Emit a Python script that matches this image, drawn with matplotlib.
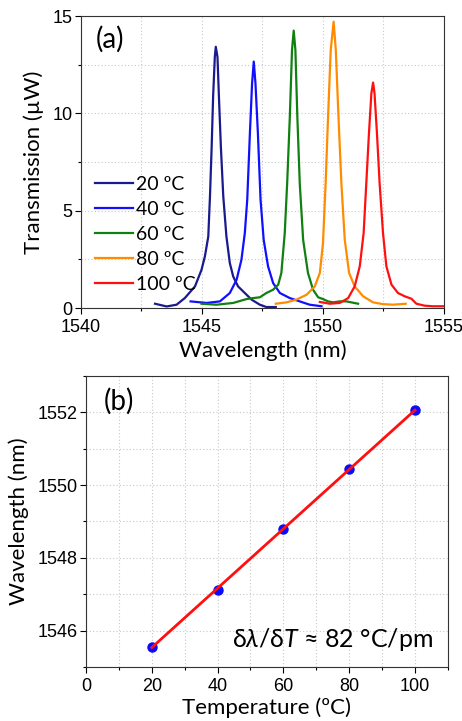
import numpy as np
import matplotlib
matplotlib.use('Agg')
import matplotlib.pyplot as plt
from matplotlib.ticker import MultipleLocator

plt.rcParams['font.family'] = ['Liberation Sans', 'DejaVu Sans']
plt.rcParams['mathtext.fontset'] = 'custom'
plt.rcParams['mathtext.it'] = 'Lato:italic'
plt.rcParams['mathtext.rm'] = 'Lato'
lab_font = ['Lato', 'DejaVu Sans']

#%% datos (a): espectros de transmision
wl20 = [1543.06, 1543.54, 1543.95, 1544.29, 1544.71, 1544.98, 1545.12, 1545.26, 1545.33, 1545.40,
        1545.46, 1545.53, 1545.57, 1545.64, 1545.70, 1545.78, 1545.88, 1546.01, 1546.15, 1546.29,
        1546.49, 1546.77, 1547.05, 1547.39, 1547.66, 1548.05]
tr20 = [0.22, 0.08, 0.17, 0.51, 1.11, 1.96, 2.65, 3.67, 5.73, 8.29,
        10.86, 12.90, 13.42, 12.90, 10.86, 8.29, 5.73, 3.67, 2.31, 1.62,
        1.11, 0.77, 0.43, 0.17, 0.05, 0.05]

wl40 = [1544.53, 1545.19, 1545.74, 1546.15, 1546.43, 1546.63, 1546.77, 1546.87, 1546.98, 1547.07,
        1547.14, 1547.21, 1547.31, 1547.42, 1547.55, 1547.73, 1547.94, 1548.22, 1548.63, 1549.04,
        1549.45, 1549.94]
tr40 = [0.34, 0.26, 0.34, 0.77, 1.45, 2.48, 3.85, 5.56, 8.98, 11.54,
        12.66, 11.54, 8.98, 5.56, 3.50, 2.14, 1.28, 0.77, 0.51, 0.34,
        0.17, 0.09]

wl60 = [1544.98, 1545.60, 1546.29, 1546.84, 1547.11, 1547.39, 1547.66, 1547.94, 1548.15, 1548.28,
        1548.42, 1548.52, 1548.63, 1548.72, 1548.79, 1548.86, 1548.94, 1549.04, 1549.18, 1549.38,
        1549.59, 1549.80, 1550.00, 1550.21, 1550.42, 1550.69, 1550.97, 1551.45]
tr60 = [0.22, 0.17, 0.26, 0.46, 0.51, 0.55, 0.77, 0.94, 1.20, 1.80,
        3.85, 6.41, 9.83, 13.25, 14.25, 13.25, 9.83, 6.41, 3.50, 1.80,
        0.94, 0.55, 0.46, 0.34, 0.29, 0.34, 0.34, 0.22]

wl80 = [1548.05, 1548.49, 1548.90, 1549.32, 1549.66, 1549.87, 1550.00, 1550.11, 1550.21, 1550.32,
        1550.44, 1550.53, 1550.64, 1550.76, 1550.90, 1551.08, 1551.31, 1551.66, 1552.07, 1552.48,
        1552.89, 1553.42]
tr80 = [0.22, 0.29, 0.43, 0.68, 1.11, 1.80, 3.33, 6.41, 9.83, 13.25,
        14.71, 13.25, 9.83, 6.41, 3.50, 1.80, 1.11, 0.60, 0.29, 0.20,
        0.17, 0.22]

wl100 = [1549.87, 1550.28, 1550.69, 1551.04, 1551.31, 1551.52, 1551.68, 1551.79, 1551.90, 1552.00,
         1552.07, 1552.13, 1552.23, 1552.34, 1552.48, 1552.62, 1552.83, 1553.10, 1553.38, 1553.65,
         1553.86, 1554.20, 1554.54, 1555.00]
tr100 = [0.31, 0.22, 0.26, 0.51, 1.11, 2.14, 3.85, 6.41, 8.98, 11.03,
         11.58, 11.03, 8.98, 6.41, 3.85, 2.14, 1.20, 0.77, 0.60, 0.48,
         0.22, 0.12, 0.09, 0.09]

etiquetas = ['20 ºC', '40 ºC', '60 ºC', '80 ºC', '100 ºC']
colores = ['#1a1a8c', '#1010ff', '#108010', '#ff8c00', '#ff1010']

#%% datos (b): longitud de onda del pico vs temperatura
temp = [20, 40, 60, 80, 100]
wl_pico = [1545.56, 1547.13, 1548.79, 1550.45, 1552.06]

#%% figura
fig = plt.figure(figsize=(4.62, 7.21), dpi=100)
ax1 = fig.add_axes([0.1753, 0.5728, 0.7857, 0.405])
ax2 = fig.add_axes([0.186, 0.0749, 0.7835, 0.4036])

grid_kw = dict(color='#c8c8c8', linestyle=(0, (1, 2)), linewidth=0.8)

# (a)
series = [(wl20, tr20), (wl40, tr40), (wl60, tr60), (wl80, tr80), (wl100, tr100)]
for (x, y), c, lab in zip(series, colores, etiquetas):
    ax1.plot(x, y, '-', color=c, lw=1.6, label=lab)

ax1.set_xlim(1540, 1555)
ax1.set_ylim(0, 15)
ax1.xaxis.set_major_locator(MultipleLocator(5))
ax1.xaxis.set_minor_locator(MultipleLocator(2.5))
ax1.yaxis.set_major_locator(MultipleLocator(5))
ax1.yaxis.set_minor_locator(MultipleLocator(2.5))
ax1.grid(True, which='both', **grid_kw)
ax1.set_axisbelow(True)
ax1.set_xlabel('Wavelength (nm)', size=16, labelpad=3, family=lab_font)
ax1.set_ylabel('Transmission (µW)', size=16, labelpad=6, family=lab_font)
ax1.text(0.04, 0.965, '(a)', transform=ax1.transAxes, size=20, va='top', family=lab_font)
ax1.legend(loc='upper left', bbox_to_anchor=(0.0, 0.50), frameon=False,
           prop={'family': lab_font, 'size': 14},
           handlelength=2.0, handletextpad=0.15, labelspacing=0.42, borderaxespad=0.3)

# (b)
ax2.plot(temp, wl_pico, 'o', color='#0a0aff', ms=6.5, zorder=3)
p = np.polyfit(temp, wl_pico, 1)
T = np.array([temp[0], temp[-1]])
ax2.plot(T, np.polyval(p, T), '-', color='#ff1010', lw=2, zorder=4)

ax2.set_xlim(0, 110)
ax2.set_ylim(1545, 1553)
ax2.xaxis.set_major_locator(MultipleLocator(20))
ax2.xaxis.set_minor_locator(MultipleLocator(10))
ax2.yaxis.set_major_locator(MultipleLocator(2))
ax2.yaxis.set_minor_locator(MultipleLocator(1))
ax2.grid(True, which='both', **grid_kw)
ax2.set_axisbelow(True)
ax2.set_xlabel('Temperature (ºC)', size=16, labelpad=2, family=lab_font)
ax2.set_ylabel('Wavelength (nm)', size=16, labelpad=6, family=lab_font)
ax2.text(0.05, 0.96, '(b)', transform=ax2.transAxes, size=20, va='top', family=lab_font)
ax2.text(0.96, 0.07, 'δ$\\lambda$/δ$T$ ≈ 82 °C/pm',
         transform=ax2.transAxes, size=18, ha='right', va='baseline', family=lab_font)

for ax in (ax1, ax2):
    ax.tick_params(which='major', direction='out', length=4, width=0.8, labelsize=13, pad=2)
    ax.tick_params(which='minor', direction='out', length=2.5, width=0.8)
    ax.tick_params(axis='x', which='major', pad=4)
    for s in ax.spines.values():
        s.set_linewidth(0.8)
        s.set_color('#333333')

plt.savefig('out.png', dpi=100)
